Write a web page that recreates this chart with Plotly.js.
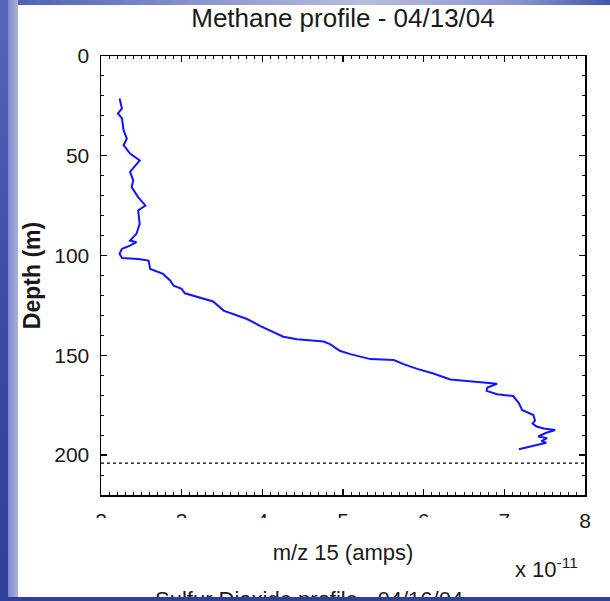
<!DOCTYPE html>
<html>
<head>
<meta charset="utf-8">
<script src="https://cdn.plot.ly/plotly-3.0.1.min.js"></script>
<style>
  html, body { margin: 0; padding: 0; background: #ffffff; overflow: hidden; }
  #wrap { position: relative; width: 610px; height: 601px; }
  #chart { position: absolute; left: 0; top: 0; width: 610px; height: 601px; }
  .deco { position: absolute; pointer-events: none; }
</style>
</head>
<body>
<div id="wrap">
  <div id="chart"></div>
  <div class="deco" style="left:0;top:0;width:610px;height:5px;background:linear-gradient(90deg,#4a5cb4 0%,#8f98cf 35%,#b9bddc 60%,#8a94cc 85%,#4456ac 100%);"></div>
  <div class="deco" style="left:0;top:0;width:8px;height:601px;background:linear-gradient(180deg,#5566bb 0%,#3a4ca6 50%,#2e3f9c 100%);"></div>
  <div class="deco" style="left:8px;top:0;width:10px;height:601px;background:linear-gradient(90deg,#7f8acb 0%,#a9b0dc 100%);"></div>
  <div class="deco" style="left:88px;top:518px;width:432px;height:18px;background:#ffffff;"></div>
  <div class="deco" style="left:0;top:597px;width:610px;height:4px;background:#2f3f9e;"></div>
</div>
<script>
// Methane signal (m/z 15), in units of 1e-11 A
const signal = [2.23,2.26,2.21,2.26,2.28,2.32,2.28,2.36,2.48,2.36,
  2.40,2.38,2.46,2.55,2.46,2.48,2.44,2.36,2.44,2.36,
  2.26,2.23,2.26,2.46,2.59,2.61,2.77,2.86,2.90,3.00,
  3.04,3.27,3.39,3.52,3.64,3.81,3.97,4.10,4.26,4.43,
  4.76,4.84,4.96,5.09,5.34,5.63,5.75,5.92,6.12,6.33,
  6.58,6.83,6.91,6.79,6.78,6.91,7.11,7.18,7.22,7.36,
  7.38,7.35,7.40,7.49,7.63,7.52,7.42,7.53,7.46,7.52,
  7.33,7.18];
// Depth (m)
const depth = [21.3,26.3,28.8,31.3,37.2,41.4,44.7,48.9,52.3,58.1,
  62.3,65.7,70.7,74.9,77.4,84.1,89.1,92.5,93.3,95.0,
  96.6,99.1,101.2,101.7,102.5,106.7,109.2,112.6,115.1,116.7,
  118.9,121.8,123.0,127.6,129.3,131.8,135.2,137.7,140.7,141.9,
  143.1,144.4,147.7,149.4,151.9,152.4,154.4,156.8,159.1,162.1,
  163.1,163.8,164.3,166.1,167.8,169.5,170.4,173.9,177.4,179.9,
  182.7,184.2,185.7,186.7,187.4,188.8,190.7,191.5,193.0,193.8,
  195.5,197.1];
const xTicks = [2,3,4,5,6,7,8];
const yTicks = [0,50,100,150,200];
const bottomDepth = 204;   // dotted reference line
const xRange = [2, 8];
const yRange = [220, 0];

const FONT = '"Liberation Sans", Arial, sans-serif';

const traces = [
  {
    x: signal, y: depth, type: 'scatter', mode: 'lines',
    line: {color: '#1414ff', width: 2},
    hoverinfo: 'skip', showlegend: false
  },
  {
    x: xRange, y: [bottomDepth, bottomDepth], type: 'scatter', mode: 'lines',
    line: {color: '#000000', width: 1.2, dash: 'dot'},
    hoverinfo: 'skip', showlegend: false
  }
];

const axisCommon = {
  showline: true, linecolor: '#000000', linewidth: 1.5,
  mirror: 'allticks', ticks: 'inside', ticklen: 6, tickwidth: 1.2, tickcolor: '#000000',
  showgrid: false, zeroline: false,
  tickfont: {family: FONT, size: 21, color: '#1a1a1a'}
};

const layout = {
  width: 610, height: 601,
  margin: {l: 101, r: 25, t: 56, b: 106, autoexpand: false},
  paper_bgcolor: '#ffffff', plot_bgcolor: '#ffffff',
  showlegend: false,
  title: {
    text: 'Methane profile - 04/13/04',
    font: {family: FONT, size: 26, color: '#1a1a1a'},
    x: 0.5, xref: 'paper', xanchor: 'center',
    y: 1 - 9/601, yref: 'container', yanchor: 'top'
  },
  xaxis: Object.assign({}, axisCommon, {
    range: xRange, tickvals: xTicks, ticktext: xTicks.map(String),
    minor: {dtick: 0.1, ticks: 'inside', ticklen: 3, tickcolor: '#000000', tickwidth: 1},
    ticklabelstandoff: 6,
    title: {text: 'm/z 15 (amps)', font: {family: FONT, size: 22, color: '#1a1a1a'}, standoff: 14}
  }),
  yaxis: Object.assign({}, axisCommon, {
    range: yRange, tickvals: yTicks, ticktext: yTicks.map(String),
    minor: {dtick: 10, ticks: 'inside', ticklen: 3, tickcolor: '#000000', tickwidth: 1},
    ticklabelstandoff: 6,
    title: {text: 'Depth (m)', font: {family: FONT, size: 23, color: '#1a1a1a', weight: 'bold'}, standoff: 7}
  }),
  annotations: [
    {
      text: 'x 10<sup>-11</sup>', xref: 'paper', yref: 'paper',
      x: 0.99, y: -0.13, xanchor: 'right', yanchor: 'top', showarrow: false,
      font: {family: FONT, size: 22, color: '#1a1a1a'}
    },
    {
      text: 'Sulfur Dioxide profile - 04/16/04', xref: 'paper', yref: 'paper',
      x: 0.43, y: -0.205, xanchor: 'center', yanchor: 'top', showarrow: false,
      font: {family: FONT, size: 22, color: '#1a1a1a'}
    }
  ]
};

Plotly.newPlot('chart', traces, layout, {staticPlot: true, displayModeBar: false});
</script>
</body>
</html>
